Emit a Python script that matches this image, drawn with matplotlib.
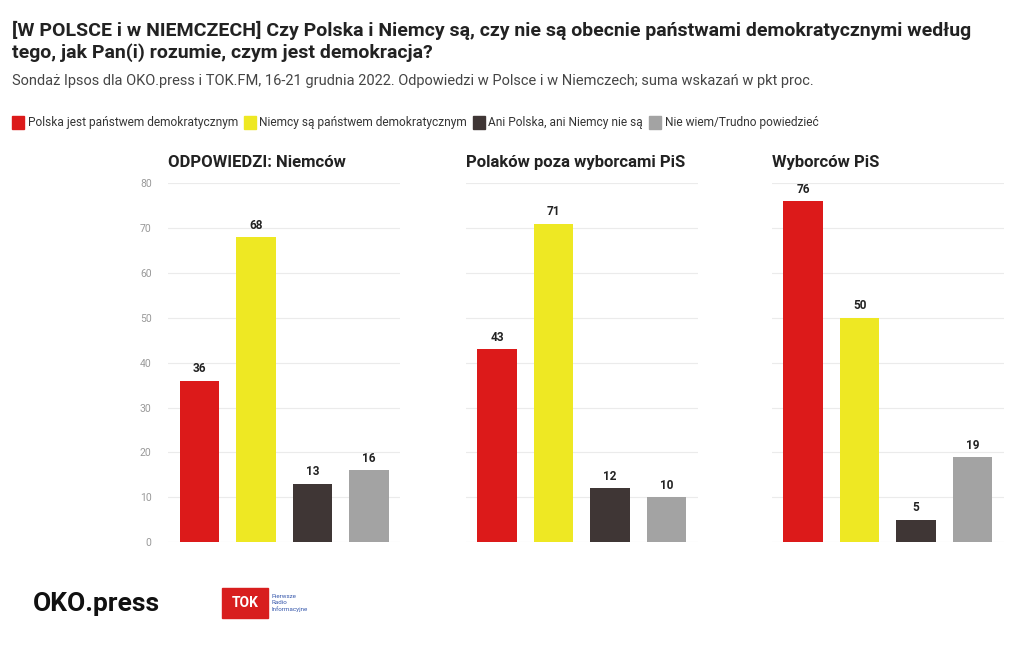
import matplotlib.pyplot as plt
from matplotlib.patches import Rectangle

categories = ['Polska jest państwem demokratycznym', 'Niemcy są państwem demokratycznym',
              'Ani Polska, ani Niemcy nie są', 'Nie wiem/Trudno powiedzieć']
colors = ['#dc1a1a', '#eee823', '#3f3635', '#a3a3a3']
panel_titles = ['ODPOWIEDZI: Niemców', 'Polaków poza wyborcami PiS', 'Wyborców PiS']
niemcy = [36, 68, 13, 16]
polacy_bez_pis = [43, 71, 12, 10]
wyborcy_pis = [76, 50, 5, 19]
panels = [niemcy, polacy_bez_pis, wyborcy_pis]
yticks = [0, 10, 20, 30, 40, 50, 60, 70, 80]

plt.rcParams['font.family'] = 'Roboto'
fig = plt.figure(figsize=(10.2, 6.5), dpi=100)

fig.text(0.012, 0.968, '[W POLSCE i w NIEMCZECH] Czy Polska i Niemcy są, czy nie są obecnie państwami demokratycznymi według\ntego, jak Pan(i) rozumie, czym jest demokracja?',
         fontsize=14, fontweight='bold', color='#222222', va='top', linespacing=1.25)
fig.text(0.012, 0.875, 'Sondaż Ipsos dla OKO.press i TOK.FM, 16-21 grudnia 2022. Odpowiedzi w Polsce i w Niemczech; suma wskazań w pkt proc.',
         fontsize=10.5, color='#444444', va='center')

# legend
lx = 0.012
for c, lab in zip(colors, categories):
    fig.patches.append(Rectangle((lx, 0.802), 0.012, 0.02, transform=fig.transFigure, color=c))
    t = fig.text(lx + 0.015, 0.812, lab, fontsize=8.6, color='#333333', va='center')
    fig.canvas.draw()
    bb = t.get_window_extent()
    lx = bb.x1 / fig.bbox.width + 0.006

lefts = [0.165, 0.457, 0.757]
for i, vals in enumerate(panels):
    ax = fig.add_axes([lefts[i], 0.166, 0.227, 0.552])
    x = range(len(vals))
    ax.bar(x, vals, width=0.7, color=colors)
    for xi, v in zip(x, vals):
        ax.text(xi, v + 1.2, str(v), ha='center', va='bottom', fontsize=8.5, fontweight='bold', color='#222222')
    ax.set_xlim(-0.55, 3.55)
    ax.set_ylim(0, 80)
    ax.set_yticks(yticks)
    ax.yaxis.grid(True, color='#ebebeb', linewidth=0.8)
    ax.set_axisbelow(True)
    ax.set_xticks([])
    for s in ax.spines.values():
        s.set_visible(False)
    ax.tick_params(axis='y', length=0, labelsize=7.5, labelcolor='#999999', pad=12)
    if i > 0:
        ax.set_yticklabels([])
    ax.set_title(panel_titles[i], loc='left', fontsize=12, fontweight='bold', color='#222222', pad=12)

# logos
fig.text(0.032, 0.07, 'OKO.press', fontsize=19, fontweight='bold', color='#111111', va='center')
fig.patches.append(Rectangle((0.218, 0.05), 0.045, 0.045, transform=fig.transFigure, color='#d81e1e'))
fig.text(0.2405, 0.0725, 'TOK', fontsize=10, fontweight='bold', color='white', ha='center', va='center')
fig.text(0.266, 0.072, 'Pierwsze\nRadio\nInformacyjne', fontsize=4.5, color='#3355aa', va='center')

fig.savefig('out.png', dpi=100)
